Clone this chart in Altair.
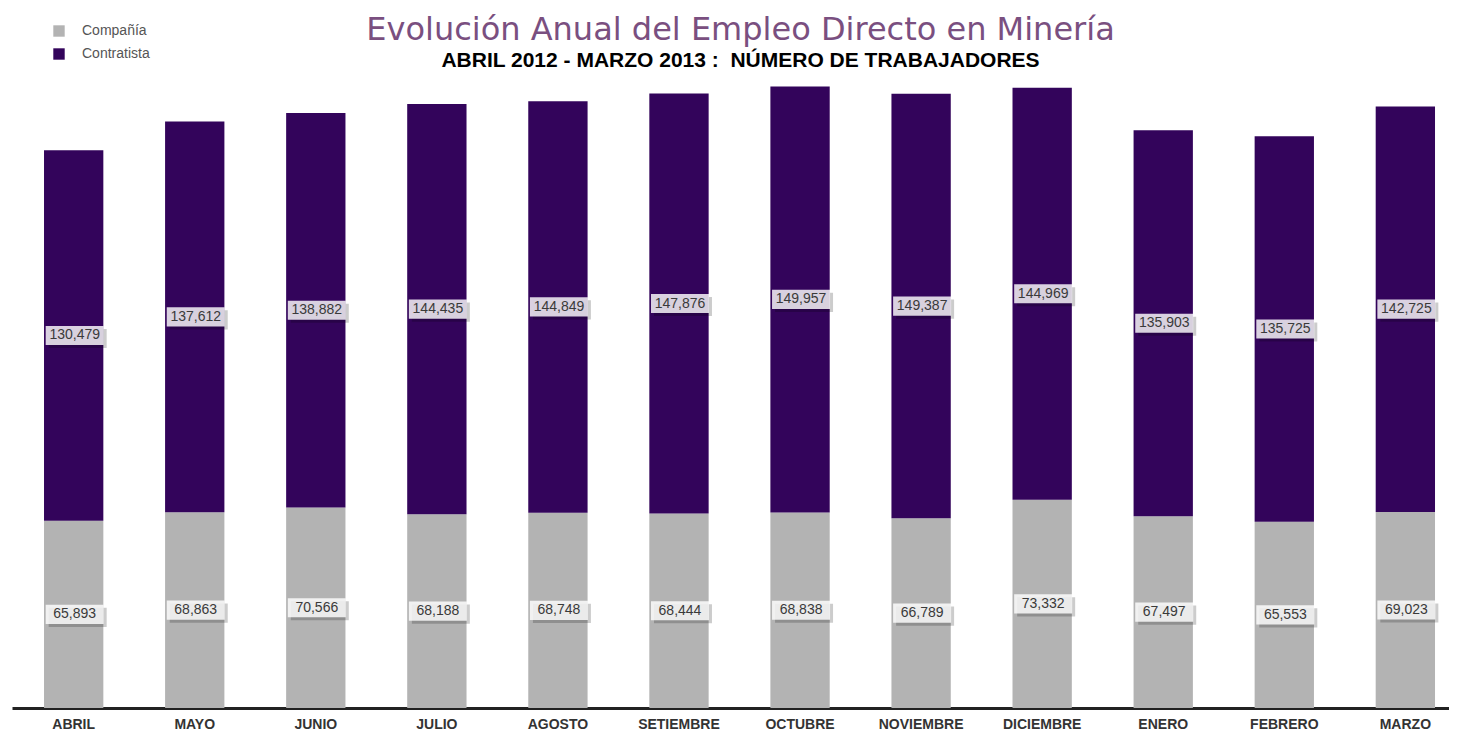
import altair as alt
import pandas as pd

meses = ["ABRIL", "MAYO", "JUNIO", "JULIO", "AGOSTO", "SETIEMBRE", "OCTUBRE",
         "NOVIEMBRE", "DICIEMBRE", "ENERO", "FEBRERO", "MARZO"]
series = ["Compañía", "Contratista"]
compania = [65893, 68863, 70566, 68188, 68748, 68444, 68838, 66789, 73332, 67497, 65553, 69023]
contratista = [130479, 137612, 138882, 144435, 144849, 147876, 149957, 149387, 144969, 135903, 135725, 142725]
colores = ["#b3b3b3", "#33045b"]

rows = []
for i, m in enumerate(meses):
    rows.append({"mes": m, "serie": series[0], "orden": 0, "valor": compania[i]})
    rows.append({"mes": m, "serie": series[1], "orden": 1, "valor": contratista[i]})
df = pd.DataFrame(rows)

base = alt.Chart(df).transform_stack(
    stack="valor", groupby=["mes"], as_=["y0", "y1"],
    sort=[alt.SortField("orden", order="ascending")]
).transform_calculate(mid="(datum.y0 + datum.y1) / 2")

x_enc = alt.X(
    "mes:N", sort=meses,
    scale=alt.Scale(paddingInner=0.51, paddingOuter=0.19, align=0.696),
    axis=alt.Axis(title=None, labelAngle=0, ticks=False, domainColor="#222222",
                  domainWidth=3, labelFont="Liberation Sans", labelFontWeight="bold",
                  labelFontSize=14, labelColor="#333333", labelPadding=9, grid=False),
)
y_scale = alt.Scale(domain=[0, 220000], nice=False, zero=True)

bars = base.mark_bar().encode(
    x=x_enc,
    y=alt.Y("y0:Q", scale=y_scale, axis=None),
    y2="y1:Q",
    color=alt.Color(
        "serie:N",
        scale=alt.Scale(domain=series, range=colores),
        legend=alt.Legend(title=None, orient="none", legendX=40, legendY=-59,
                          symbolType="square", symbolSize=130, symbolStrokeWidth=0,
                          labelFont="Liberation Sans", labelFontSize=14,
                          labelColor="#555555", rowPadding=9, labelOffset=16),
    ),
)

box_path = "M-1,-0.33 L1,-0.33 L1,0.33 L-1,0.33 Z"

shadow = base.mark_point(shape=box_path, size=3364, filled=True, fill="#000000",
                         fillOpacity=0.2, strokeWidth=0, xOffset=4, yOffset=3).encode(
    x=alt.X("mes:N", sort=meses), y=alt.Y("mid:Q", scale=y_scale)
)
box = base.mark_point(shape=box_path, size=3364, filled=True, fill="#ffffff",
                      fillOpacity=0.82, strokeWidth=0, xOffset=1).encode(
    x=alt.X("mes:N", sort=meses), y=alt.Y("mid:Q", scale=y_scale)
)
labels = base.mark_text(font="Liberation Sans", fontSize=14, color="#3a3a3a", dx=1).encode(
    x=alt.X("mes:N", sort=meses), y=alt.Y("mid:Q", scale=y_scale),
    text=alt.Text("valor:Q", format=","),
)

chart = alt.layer(bars, shadow, box, labels).properties(
    width=1437, height=625,
    autosize=alt.AutoSizeParams(type="none"),
    padding={"left": 4, "top": 75, "right": 0, "bottom": 26},
    title=alt.Title(
        "Evolución Anual del Empleo Directo en Minería",
        subtitle="ABRIL 2012 - MARZO 2013 :\u00a0 NÚMERO DE TRABAJADORES",
        anchor="middle", font="DejaVu Sans", fontSize=32, fontWeight="normal",
        color="#7a4f80", subtitleFont="Liberation Sans", subtitleFontSize=21,
        subtitleFontWeight="bold", subtitleColor="#000000", subtitlePadding=3,
        offset=-48, dx=10,
    ),
).configure_view(stroke=None)

chart.save("out.html", embed_options={"renderer": "svg", "actions": False})
